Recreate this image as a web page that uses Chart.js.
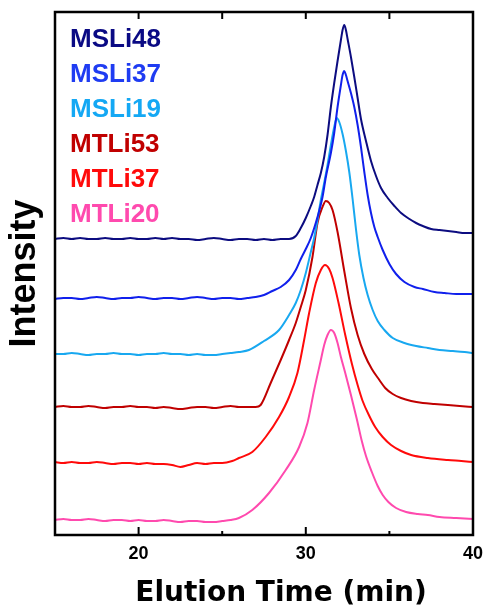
<!DOCTYPE html>
<html><head><meta charset="utf-8">
<script src="https://cdn.jsdelivr.net/npm/chart.js@4.4.1/dist/chart.umd.min.js"></script>
<style>html,body{margin:0;padding:0;background:#fff}canvas{display:block}</style>
</head><body>
<canvas id="c" width="491" height="609"></canvas>
<script>
// ---- data (elution time in min, intensity in arbitrary offset units) ----
const seriesLabels = ['MSLi48','MSLi37','MSLi19','MTLi53','MTLi37','MTLi20'];
const xTickLabels = [20, 30, 40];
const xTitle = 'Elution Time (min)';
const yTitle = 'Intensity';

const timeMSLi48 = [15,15.5,16,16.5,17,17.5,18,18.5,19,19.5,20,20.5,21,21.5,22,22.5,23,23.5,24,24.5,25,25.5,26,26.5,27,27.5,28,28.5,29,
  29.4,29.7,30.0,30.3,30.5,30.7,30.9,31.1,31.3,31.5,31.7,31.9,32.1,32.2,32.3,32.4,32.5,32.7,32.9,33.1,33.3,33.6,33.9,34.2,34.5,34.9,35.3,35.7,36.2,36.6,37.0,37.5,38.0,38.5,39.0,39.5,40];
const intMSLi48 = [296,297,296,297,296,296,297,296,296,297,296,296,297,296,297,296,296,295,296,297,296,295,296,296,295,296,295,296,296,
  299,307,317,329,338,350,362,378,400,428,452,474,495,505,510,505,496,478,458,437,416,394,374,359,347,337,329,322,316,312,309,306,305,304,303,302,302];

const timeMSLi37 = [15,15.5,16,16.5,17,17.5,18,18.5,19,19.5,20,20.5,21,21.5,22,22.5,23,23.5,24,24.5,25,25.5,26,26.5,27,
  27.5,28.0,28.5,29.0,29.4,29.7,30.0,30.3,30.7,31.0,31.2,31.5,31.7,31.9,32.1,32.2,32.3,32.4,32.5,32.7,32.9,33.1,33.3,33.5,33.7,33.9,34.1,34.3,34.6,35.0,35.4,35.9,36.5,37.0,37.7,38.3,39.0,39.5,40];
const intMSLi37 = [236,237,237,236,237,238,237,236,237,237,238,237,236,237,237,236,237,238,237,236,237,237,236,237,238,
  240,244,248,255,265,276,286,297,318,338,358,382,402,428,450,460,464,460,454,442,428,410,388,363,340,322,308,298,285,271,261,253,248,246,243,242,241,241,241];

const timeMSLi19 = [15,15.5,16,16.5,17,17.5,18,18.5,19,19.5,20,20.5,21,21.5,22,22.5,23,23.5,24,24.5,25,25.5,
  26.0,26.6,27.5,28.4,29.0,29.4,29.7,30.0,30.3,30.5,30.7,30.9,31.1,31.3,31.5,31.7,31.85,32.0,32.2,32.4,32.6,32.8,33.0,33.2,33.45,33.7,34.0,34.3,34.7,35.2,35.9,36.6,37.3,38.0,38.8,39.5,40];
const intMSLi19 = [181,181,182,181,180,181,181,182,181,181,180,181,181,182,181,181,180,181,180,180,181,182,
  183,185,194,205,220,232,245,262,283,297,315,335,352,370,390,408,417,413,401,384,363,336,306,280,257,240,225,214,205,197,192,189,187,185,184,183,182];

const timeMTLi53 = [15,15.5,16,16.5,17,17.5,18,18.5,19,19.5,20,20.5,21,21.5,22,22.5,23,23.5,24,24.5,25,25.5,26,26.5,27,
  27.3,27.9,28.5,29.0,29.4,29.7,30.0,30.4,30.7,31.0,31.2,31.4,31.6,31.9,32.3,32.7,33.1,33.5,33.95,34.4,34.75,35.2,35.7,36.3,37.0,37.7,38.5,39.2,40];
const intMTLi53 = [128,129,128,128,129,128,127,128,128,129,128,128,127,128,127,126,127,128,128,127,128,129,128,128,128,
  130,152,175,195,212,228,245,278,312,328,334,332,325,303,264,227,200,181,166,155,147,141,137,134,132,131,130,129,128];

const timeMTLi37 = [15,15.5,16,16.5,17,17.5,18,18.5,19,19.5,20,20.5,21,21.5,22,22.5,23,23.5,24,24.5,25,
  25.6,26.0,26.8,27.6,28.4,29.0,29.5,29.9,30.2,30.6,30.9,31.15,31.4,31.6,31.96,32.36,32.76,33.1,33.4,33.8,34.15,34.6,35.1,35.7,36.3,37.3,38.5,39.3,40];
const intMTLi37 = [73,72,73,72,72,73,72,71,72,72,71,72,71,71,70,68,70,72,71,72,72,
  74,77,83,98,118,138,162,195,222,252,265,270,266,257,232,200,171,150,134,119,108,98,90,84,80,77,75,74,73];

const timeMTLi20 = [15,15.5,16,16.5,17,17.5,18,18.5,19,19.5,20,20.5,21,21.5,22,22.5,23,23.5,24,24.5,
  25.0,25.5,26.0,26.8,27.8,28.8,29.6,30.1,30.5,30.9,31.1,31.3,31.5,31.7,31.9,32.1,32.36,32.7,33.05,33.35,33.6,33.95,34.3,34.6,34.94,35.4,36.0,36.7,37.3,38.0,39.0,40];
const intMTLi20 = [15,16,15,15,16,15,14,15,15,14,15,14,14,15,14,13,14,14,13,13,
  14,15,17,25,42,65,88,112,145,175,190,200,205,202,192,178,162,140,116,94,79,63,49,40,33,27,23,21,20,18,17,16];

// ---- build ----
const seriesTimes = [timeMSLi48,timeMSLi37,timeMSLi19,timeMTLi53,timeMTLi37,timeMTLi20];
const seriesVals  = [intMSLi48,intMSLi37,intMSLi19,intMTLi53,intMTLi37,intMTLi20];
const lineColors  = ['#0c0c80','#1020ec','#18a8f0','#c00000','#ff0a0a','#ff4aae'];
const textColors  = ['#0a0a84','#1f3cf2','#14a8f4','#c00000','#ff0a0a','#ff4aae'];
const FONT = "'Liberation Sans', Arial, Helvetica, sans-serif";
const TITLE_FONT = "'DejaVu Sans', 'Liberation Sans', Arial, sans-serif";

const datasets = seriesLabels.map((lab, i) => ({
  label: lab,
  data: seriesTimes[i].map((t, j) => ({x: t, y: seriesVals[i][j]})),
  borderColor: lineColors[i],
  backgroundColor: lineColors[i],
  borderWidth: 2,
  pointRadius: 0,
  cubicInterpolationMode: 'monotone',
  fill: false
}));

const framePlugin = {
  id: 'frame',
  afterDatasetsDraw(chart) {
    const {ctx, chartArea: a, scales: {x}} = chart;
    ctx.save();
    ctx.strokeStyle = '#000';
    ctx.lineWidth = 2;
    x.ticks.forEach(tk => {
      const px = x.getPixelForValue(tk.value);
      const major = tk.value % 10 === 0;
      ctx.beginPath();
      ctx.moveTo(px, a.bottom); ctx.lineTo(px, a.bottom - (major ? 8 : 4));
      ctx.moveTo(px, a.top); ctx.lineTo(px, a.top + 7);
      ctx.stroke();
    });
    ctx.lineWidth = 2.5;
    ctx.strokeRect(a.left, a.top, a.right - a.left, a.bottom - a.top);
    ctx.restore();
  },
  afterDraw(chart) {
    const {ctx, chartArea: a} = chart;
    ctx.save();
    ctx.font = 'bold 26px ' + FONT;
    ctx.textBaseline = 'alphabetic';
    ctx.textAlign = 'left';
    chart.data.datasets.forEach((ds, i) => {
      ctx.fillStyle = textColors[i];
      ctx.fillText(ds.label, a.left + 15, a.top + 35 + i * 34.9);
    });
    // x-axis title
    ctx.font = 'bold 28px ' + TITLE_FONT;
    ctx.fillStyle = '#000';
    ctx.textAlign = 'center';
    ctx.fillText(xTitle, (a.left + a.right) / 2 + 17, 601);
    ctx.restore();
  }
};

new Chart(document.getElementById('c'), {
  type: 'line',
  data: {datasets},
  options: {
    responsive: false,
    devicePixelRatio: 1,
    animation: false,
    layout: {padding: {left: 0, right: 16, top: 12, bottom: 0}},
    plugins: {legend: {display: false}, tooltip: {enabled: false}},
    scales: {
      x: {
        type: 'linear', min: 15, max: 40,
        grid: {display: false, drawTicks: false},
        border: {display: false},
        afterFit: s => { s.height = 74; },
        ticks: {
          stepSize: 5, autoSkip: false, maxRotation: 0, padding: 8,
          color: '#000', font: {family: FONT, size: 18, weight: 'bold'},
          callback: v => xTickLabels.includes(v) ? String(v) : ''
        },
        title: {display: false}
      },
      y: {
        type: 'linear', min: 0, max: 523,
        grid: {display: false, drawTicks: false},
        border: {display: false},
        ticks: {display: false},
        afterFit: s => { s.width = 55; },
        title: {display: true, text: yTitle, color: '#000',
          font: {family: FONT, size: 36, weight: 'bold'}, padding: {top: 3, bottom: 0}}
      }
    }
  },
  plugins: [framePlugin]
});
</script>
</body></html>
